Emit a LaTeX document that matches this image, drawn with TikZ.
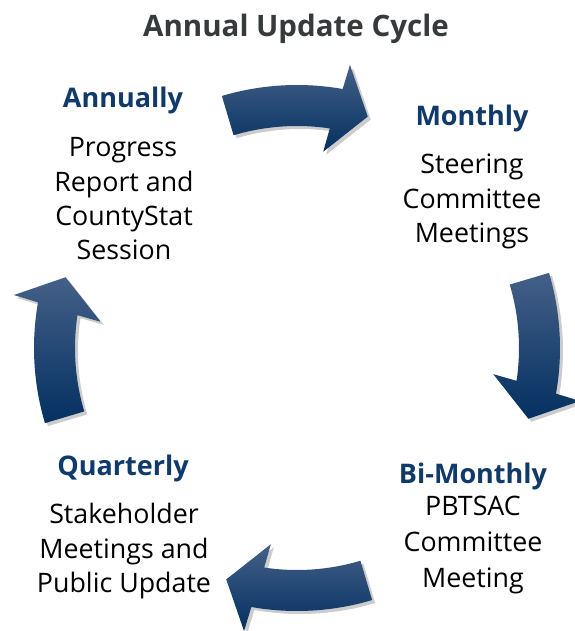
\documentclass[tikz,border=0pt]{standalone}
\usepackage{fontspec}
\setmainfont{Open Sans}
\usetikzlibrary{shadows}
\definecolor{arrowtop}{RGB}{68,96,136}
\definecolor{arrowmid}{RGB}{12,56,104}
\definecolor{arrowbot}{RGB}{4,48,96}
\definecolor{headblue}{RGB}{16,58,106}
\definecolor{titlegray}{RGB}{55,58,60}
\newcommand\cyclearrow[1]{%
  \path[top color=arrowtop, middle color=arrowmid, bottom color=arrowbot,
        drop shadow={shadow xshift=3pt, shadow yshift=-3pt, opacity=0.2, fill=black}]
    plot[domain={106.6+#1}:{80+#1}, samples=40] ({297+263*cos(\x)},{348-263*sin(\x)})
    -- ({297+288*cos(79.4+#1)},{348-288*sin(79.4+#1)})
    -- ({297+242*cos(73+#1)},{348-242*sin(73+#1)})
    -- ({297+198*cos(82.4+#1)},{348-198*sin(82.4+#1)})
    -- ({297+222*cos(81.5+#1)},{348-222*sin(81.5+#1)})
    -- plot[domain={81.5+#1}:{106.6+#1}, samples=40] ({297+222*cos(\x)},{348-222*sin(\x)})
    -- cycle;}
\begin{document}
\begin{tikzpicture}[x=1pt,y=-1pt,
  head/.style={anchor=base, inner sep=0pt, text=headblue, font=\fontsize{27}{32}\selectfont\bfseries},
  body/.style={anchor=base, inner sep=0pt, text=black, font=\fontsize{26.8}{30}\selectfont},
  titletext/.style={anchor=base, inner sep=0pt, text=titlegray, font=\fontsize{29.5}{36}\selectfont\bfseries}]
\useasboundingbox[fill=white] (0,0) rectangle (574,631);
\cyclearrow{0}
\cyclearrow{-90}
\cyclearrow{-180}
\cyclearrow{-270}
\node[titletext] (title) at (296,37) {Annual Update Cycle};
% Annually
\node[head] (ann) at (123,108) {Annually};
\node[body] (ann1) at (123,157) {Progress};
\node[body] (ann2) at (124,191) {Report and};
\node[body] (ann3) at (124,225) {CountyStat};
\node[body] (ann4) at (124,259) {Session};
% Monthly
\node[head] (mon) at (472,126) {Monthly};
\node[body] (mon1) at (472,173) {Steering};
\node[body] (mon2) at (472,208) {Committee};
\node[body] (mon3) at (472,242) {Meetings};
% Bi-Monthly
\node[head] (bim) at (473,483) {Bi-Monthly};
\node[body] (bim1) at (473,515) {PBTSAC};
\node[body] (bim2) at (473,551) {Committee};
\node[body] (bim3) at (473,587) {Meeting};
% Quarterly
\node[head] (qua) at (123,475) {Quarterly};
\node[body] (qua1) at (124,523) {Stakeholder};
\node[body] (qua2) at (124,558) {Meetings and};
\node[body] (qua3) at (124,592) {Public Update};
\end{tikzpicture}
\end{document}
